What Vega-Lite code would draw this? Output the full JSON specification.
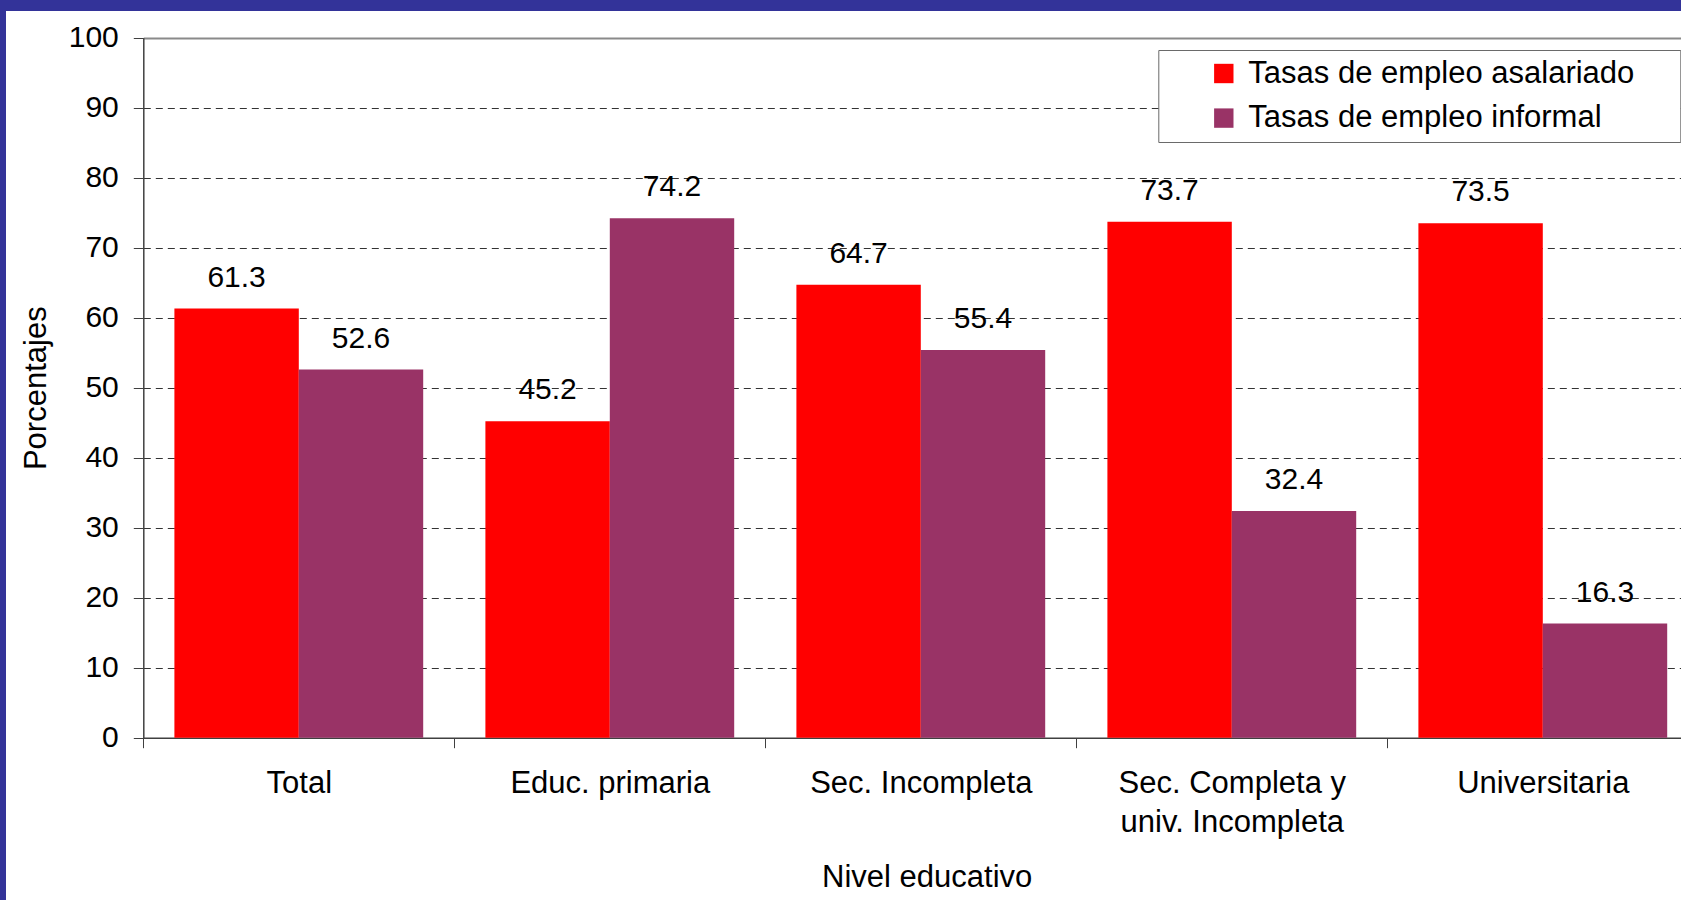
{
  "$schema": "https://vega.github.io/schema/vega-lite/v6.json",
  "autosize": {"type": "none"},
  "padding": {"top": 11, "left": 6, "right": 0, "bottom": 0},
  "width": 1675,
  "height": 889,
  "background": "#333399",
  "config": {
    "view": {"fill": "white", "stroke": null},
    "font": "Liberation Sans",
    "text": {"font": "Liberation Sans"}
  },
  "data": {
    "values": [
      {"nivel": "Total", "serie": "Tasas de empleo asalariado", "valor": 61.3},
      {"nivel": "Total", "serie": "Tasas de empleo informal", "valor": 52.6},
      {"nivel": "Educ. primaria", "serie": "Tasas de empleo asalariado", "valor": 45.2},
      {"nivel": "Educ. primaria", "serie": "Tasas de empleo informal", "valor": 74.2},
      {"nivel": "Sec. Incompleta", "serie": "Tasas de empleo asalariado", "valor": 64.7},
      {"nivel": "Sec. Incompleta", "serie": "Tasas de empleo informal", "valor": 55.4},
      {"nivel": "Sec. Completa y univ. Incompleta", "serie": "Tasas de empleo asalariado", "valor": 73.7},
      {"nivel": "Sec. Completa y univ. Incompleta", "serie": "Tasas de empleo informal", "valor": 32.4},
      {"nivel": "Universitaria", "serie": "Tasas de empleo asalariado", "valor": 73.5},
      {"nivel": "Universitaria", "serie": "Tasas de empleo informal", "valor": 16.3}
    ]
  },
  "encoding": {
    "x": {
      "field": "nivel",
      "type": "nominal",
      "sort": ["Total", "Educ. primaria", "Sec. Incompleta", "Sec. Completa y univ. Incompleta", "Universitaria"],
      "scale": {"range": [137.3, 1692.3], "paddingInner": 0.2, "paddingOuter": 0.1},
      "axis": {
        "title": "Nivel educativo",
        "offset": -162.3,
        "labelAngle": 0,
        "labelFont": "Liberation Sans",
        "labelFontSize": 31,
        "labelColor": "black",
        "labelBaseline": "alphabetic",
        "labelPadding": 45,
        "labelLineHeight": 39,
        "labelLimit": 0,
        "labelExpr": "datum.value == 'Sec. Completa y univ. Incompleta' ? ['Sec. Completa y', 'univ. Incompleta'] : datum.label",
        "bandPosition": 0,
        "tickOffset": -31.1,
        "labelOffset": 31.1,
        "tickSize": 10,
        "tickColor": "#404040",
        "domainColor": "#404040",
        "domainWidth": 1.5,
        "titleFont": "Liberation Sans",
        "titleFontSize": 31,
        "titleFontWeight": "normal",
        "titleColor": "black",
        "titleBaseline": "alphabetic",
        "titleX": 920.7,
        "titleY": 149,
        "grid": false
      }
    },
    "y": {
      "field": "valor",
      "type": "quantitative",
      "scale": {"domain": [0, 100], "range": [726.7, 26.7], "nice": false},
      "axis": {
        "title": "Porcentajes",
        "offset": -137.3,
        "values": [0, 10, 20, 30, 40, 50, 60, 70, 80, 90, 100],
        "labelFont": "Liberation Sans",
        "labelFontSize": 30,
        "labelColor": "black",
        "labelPadding": 15,
        "tickSize": 10,
        "tickColor": "#404040",
        "domainColor": "#404040",
        "domainWidth": 1.5,
        "grid": true,
        "gridColor": {"condition": {"test": "datum.value === 100", "value": "#8a8a8a"}, "value": "#333333"},
        "gridDash": {"condition": {"test": "datum.value === 100", "value": []}, "value": [7, 5]},
        "gridWidth": {"condition": {"test": "datum.value === 100", "value": 2}, "value": 1},
        "titleFont": "Liberation Sans",
        "titleFontSize": 31,
        "titleFontWeight": "normal",
        "titleColor": "black",
        "titleBaseline": "alphabetic",
        "titleX": -98
      }
    },
    "xOffset": {
      "field": "serie",
      "type": "nominal",
      "sort": ["Tasas de empleo asalariado", "Tasas de empleo informal"],
      "scale": {"paddingInner": 0, "paddingOuter": 0}
    }
  },
  "layer": [
    {
      "mark": {"type": "bar"},
      "encoding": {
        "color": {
          "field": "serie",
          "type": "nominal",
          "sort": ["Tasas de empleo asalariado", "Tasas de empleo informal"],
          "scale": {"domain": ["Tasas de empleo asalariado", "Tasas de empleo informal"], "range": ["#FF0000", "#993366"]},
          "legend": {
            "title": null,
            "orient": "none",
            "legendX": 1152.3,
            "legendY": 39,
            "direction": "vertical",
            "fillColor": "white",
            "strokeColor": "#6a6a6a",
            "padding": 8,
            "symbolType": "square",
            "symbolSize": 376,
            "symbolStrokeWidth": 0,
            "symbolOffset": 42,
            "labelOffset": 9,
            "labelFont": "Liberation Sans",
            "labelFontSize": 31,
            "labelColor": "black",
            "labelLimit": 0,
            "rowPadding": 12.6,
            "labelExpr": "datum.label + '\u00a0\u00a0\u00a0\u00a0\u200a\u200b'"
          }
        }
      }
    },
    {
      "mark": {"type": "text", "baseline": "alphabetic", "align": "center", "dy": -22, "fontSize": 30, "font": "Liberation Sans", "color": "black"},
      "encoding": {
        "text": {"field": "valor", "type": "quantitative", "format": ".1f"}
      }
    }
  ]
}
